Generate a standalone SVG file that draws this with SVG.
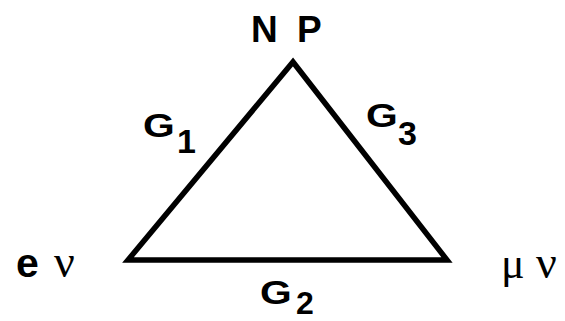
<svg xmlns="http://www.w3.org/2000/svg" width="565" height="321" viewBox="0 0 565 321">
<style>
.b{font-family:"Liberation Sans",Arial,sans-serif;font-weight:bold;fill:#000}
.s{font-family:"Liberation Serif","Times New Roman",serif;fill:#000}
.edge{fill:none;stroke:#000;stroke-width:5.5;stroke-linejoin:miter}
</style>
<rect width="565" height="321" fill="#fff"/>
<g id="connectors">
<polygon class="edge" points="128,260 293,62 447,260"/>
</g>
<g id="node-np"><text class="b" x="251" y="42" font-size="37">N</text><text class="b" x="297" y="42" font-size="37">P</text></g>
<g id="node-enu"><text class="b" x="16" y="277" font-size="41">e</text><text class="s" x="54" y="277" font-size="46">ν</text></g>
<g id="node-munu"><text class="s" x="501" y="278" font-size="44">μ</text><text class="s" x="536" y="278" font-size="46">ν</text></g>
<g id="label-g1"><text class="b" transform="translate(143,137) scale(1.2,1)" font-size="34">G</text><text class="b" x="177" y="153" font-size="34">1</text></g>
<g id="label-g3"><text class="b" transform="translate(366,127) scale(1.2,1)" font-size="34">G</text><text class="b" x="398" y="145" font-size="34">3</text></g>
<g id="label-g2"><text class="b" transform="translate(260,304) scale(1.2,1)" font-size="34">G</text><text class="b" x="296" y="314" font-size="32">2</text></g>
</svg>
